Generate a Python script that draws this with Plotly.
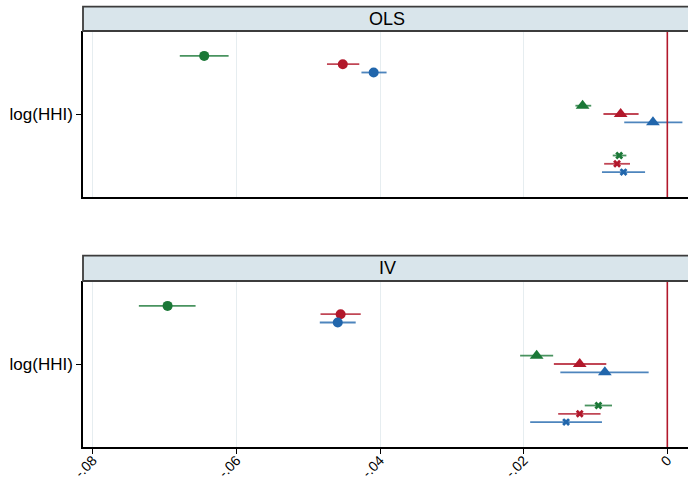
import plotly.graph_objects as go

# ---- data ----
panels = ["OLS", "IV"]
series_colors = ["#1b7837", "#b2182b", "#2166ac"]   # green, red, blue
ci_colors = ["rgba(27,120,55,0.8)", "rgba(178,24,43,0.8)", "rgba(33,102,172,0.8)"]
groups = ["circle", "triangle-up", "x"]
category = "log(HHI)"

# estimates [group][series]  (group: circle, triangle, cross; series: green, red, blue)
ols_est = [[-0.0645, -0.0452, -0.0409],
           [-0.0118, -0.0065, -0.0020],
           [-0.0067, -0.0070, -0.0061]]
ols_lo = [[-0.0679, -0.0474, -0.0426],
          [-0.0128, -0.0089, -0.0060],
          [-0.0076, -0.0088, -0.0091]]
ols_hi = [[-0.0611, -0.0429, -0.0391],
          [-0.0106, -0.0040, 0.0021],
          [-0.0057, -0.0052, -0.0031]]

iv_est = [[-0.0696, -0.0455, -0.0459],
          [-0.0182, -0.0122, -0.0087],
          [-0.0096, -0.0122, -0.0141]]
iv_lo = [[-0.0736, -0.0483, -0.0484],
         [-0.0205, -0.0158, -0.0149],
         [-0.0115, -0.0152, -0.0191]]
iv_hi = [[-0.0657, -0.0427, -0.0434],
         [-0.0159, -0.0085, -0.0026],
         [-0.0077, -0.0093, -0.0091]]

xtick_vals = [-0.08, -0.06, -0.04, -0.02, 0]
xtick_text = ["-.08", "-.06", "-.04", "-.02", "0"]

panel_data = [(ols_est, ols_lo, ols_hi), (iv_est, iv_lo, iv_hi)]

# ---- figure ----
W, H = 688, 477
ML, MR, MT, MB = 83, 0, 0, 30
plot_h = H - MT - MB

def py2paper(py):
    return (H - MB - py) / plot_h

top_dom = [py2paper(197), py2paper(31)]
bot_dom = [0.0, py2paper(281)]
strip_top = [py2paper(31), py2paper(6.7)]
strip_bot = [py2paper(281), py2paper(255.7)]

fig = go.Figure()
group_off = [6, 0, -6]
series_off = [1, 0, -1]
marker_size = {"circle": 10, "triangle-up": 12, "x": 7}

for p, (est, lo, hi) in enumerate(panel_data):
    xa = "x" if p == 0 else "x2"
    ya = "y" if p == 0 else "y2"
    for g, sym in enumerate(groups):
        for s in range(3):
            e = est[g][s]
            fig.add_trace(go.Scatter(
                x=[e], y=[group_off[g] + series_off[s]],
                mode="markers",
                marker=dict(symbol=sym, size=marker_size[sym], color=series_colors[s],
                            line=dict(width=0)),
                error_x=dict(type="data", symmetric=False,
                             array=[hi[g][s] - e], arrayminus=[e - lo[g][s]],
                             color=ci_colors[s], thickness=1.8, width=0),
                xaxis=xa, yaxis=ya, showlegend=False, hoverinfo="x",
            ))

xrange = [-0.08138, 0.00288]
common_x = dict(range=xrange, showgrid=True, gridcolor="#e6edf0", gridwidth=1,
                tickvals=xtick_vals, ticktext=xtick_text, zeroline=False,
                showline=True, linecolor="black", linewidth=1.5)
common_y = dict(range=[-10, 10], tickvals=[0], ticktext=[category], showgrid=False,
                zeroline=False, showline=True, linecolor="black", linewidth=1.5,
                ticks="outside", ticklen=5, tickcolor="black",
                tickfont=dict(size=17, color="black"))

fig.update_layout(
    width=W, height=H,
    margin=dict(l=ML, r=MR, t=MT, b=MB),
    paper_bgcolor="white", plot_bgcolor="white",
    font=dict(family="Liberation Sans, Arial, sans-serif", color="black"),
    showlegend=False,
    xaxis=dict(**common_x, anchor="y", showticklabels=False, ticks=""),
    yaxis=dict(**common_y, domain=top_dom, anchor="x"),
    xaxis2=dict(**common_x, anchor="y2", matches="x", showticklabels=True,
                ticks="outside", ticklen=5, tickcolor="black", tickangle=-45,
                ticklabelstandoff=-7,
                tickfont=dict(size=14, color="black"), automargin=False),
    yaxis2=dict(**common_y, domain=bot_dom, anchor="x2"),
)

shapes = []
for xr, yr in [("x", "y domain"), ("x2", "y2 domain")]:
    shapes.append(dict(type="line", xref=xr, yref=yr, x0=0, x1=0, y0=0, y1=1,
                       line=dict(color="#b2182b", width=1.6), layer="above"))
annotations = []
for title, dom in [(panels[0], strip_top), (panels[1], strip_bot)]:
    shapes.append(dict(type="rect", xref="paper", yref="paper", x0=0, x1=1.02,
                       y0=dom[0], y1=dom[1], fillcolor="#d9e5eb",
                       line=dict(color="#3c3c3c", width=1.8), layer="above"))
    annotations.append(dict(text=title, xref="paper", yref="paper",
                            x=(387 - ML) / (W - ML - MR), y=(dom[0] + dom[1]) / 2,
                            xanchor="center", yanchor="middle", showarrow=False,
                            font=dict(size=18, color="black")))
fig.update_layout(shapes=shapes, annotations=annotations)

fig.write_html("out.html")
